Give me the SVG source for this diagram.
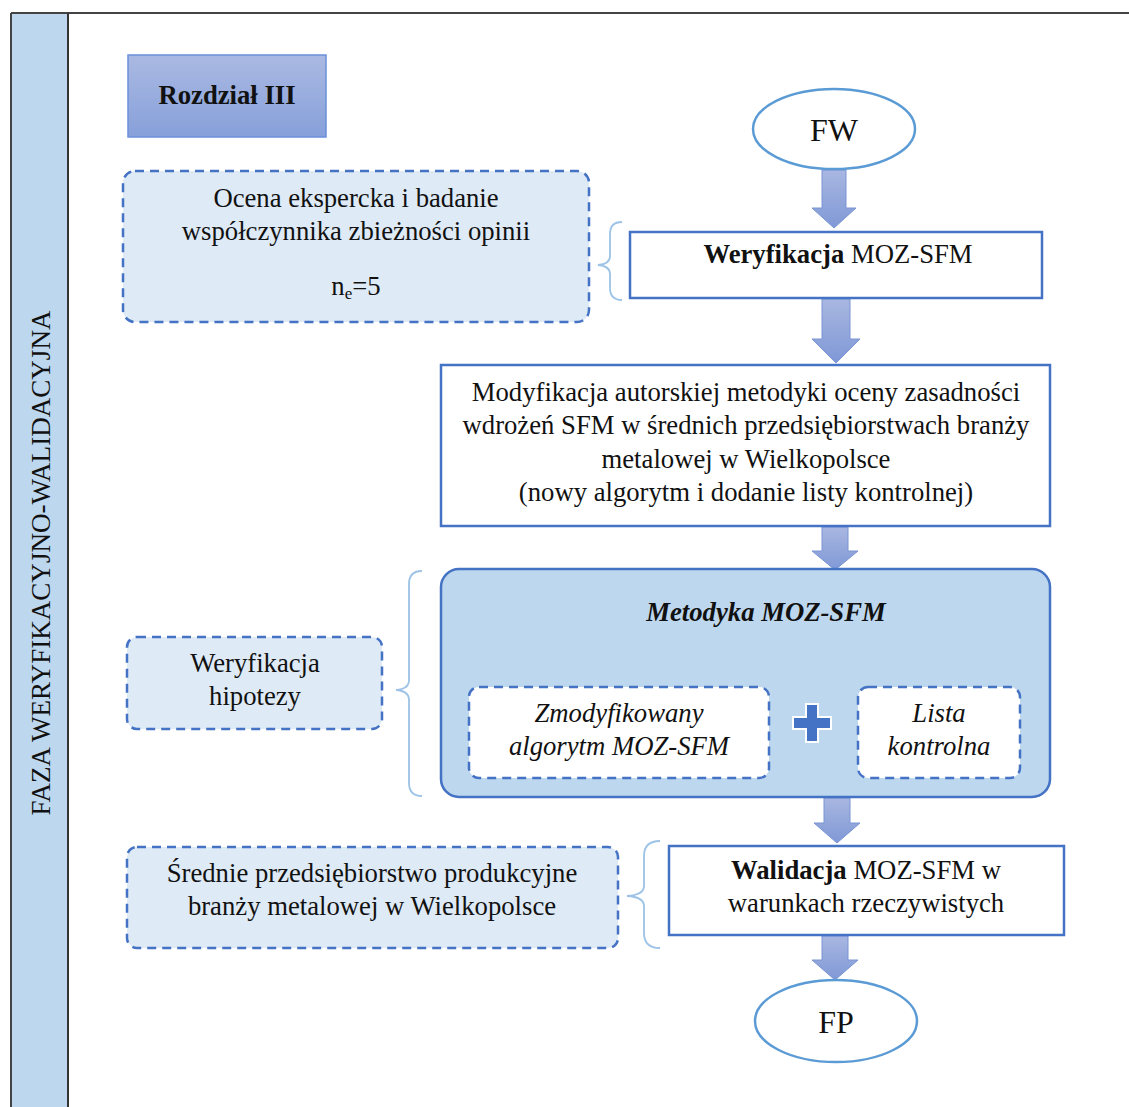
<svg xmlns="http://www.w3.org/2000/svg" width="1129" height="1107" viewBox="0 0 1129 1107" font-family="'Liberation Serif', 'DejaVu Serif', serif">
  <defs>
    <linearGradient id="gHead" x1="0" y1="0" x2="0" y2="1">
      <stop offset="0" stop-color="#AAB9E2"/>
      <stop offset="1" stop-color="#87A0DA"/>
    </linearGradient>
    <linearGradient id="gArrow" x1="0" y1="0" x2="0" y2="1">
      <stop offset="0" stop-color="#A9B7E1"/>
      <stop offset="1" stop-color="#7F98D6"/>
    </linearGradient>
    <style>
      text { font-family: 'Liberation Serif', 'DejaVu Serif', serif; fill: #111; font-size: 26.7px; text-anchor: middle; }
      .b { font-weight: bold; }
      .i { font-style: italic; }
      .big { font-size: 32px; }
      .sub { font-size: 17px; }
      .solid { fill: #fff; stroke: #4472C4; stroke-width: 2.5; }
      .note { fill: #DEEAF6; stroke: #4472C4; stroke-width: 2.5; stroke-dasharray: 9 6; }
      .inner { fill: #fff; stroke: #4472C4; stroke-width: 2.5; stroke-dasharray: 9 6; }
      .term { fill: #fff; stroke: #5B9BD5; stroke-width: 2.5; }
      .brace { fill: none; stroke: #9DC3E6; stroke-width: 1.8; }
      .arrow { fill: url(#gArrow); stroke: #7A95D4; stroke-width: 1; }
    </style>
  </defs>

  <!-- frame with the phase strip -->
  <g id="frame">
    <rect x="11" y="13" width="57" height="1100" fill="#BDD7EE"/>
    <line x1="11" y1="13" x2="1129" y2="13" stroke="#444" stroke-width="2"/>
    <line x1="11" y1="13" x2="11" y2="1107" stroke="#444" stroke-width="2"/>
    <line x1="68" y1="13" x2="68" y2="1107" stroke="#333" stroke-width="2"/>
    <text transform="translate(50 563) rotate(-90)" textLength="505" lengthAdjust="spacingAndGlyphs">FAZA WERYFIKACYJNO-WALIDACYJNA</text>
  </g>

  <g id="chapter">
    <rect x="128" y="55" width="198" height="82" fill="url(#gHead)" stroke="#6A90DA" stroke-width="1.5"/>
    <text class="b" x="227" y="104">Rozdział III</text>
  </g>

  <g id="connectors">
    <path class="arrow" d="M822 170 H846 V208 H856 L834 228 L812 208 H822 Z"/>
    <path class="arrow" d="M822 299 H850 V339 H860 L836 363 L812 339 H822 Z"/>
    <path class="arrow" d="M822 527 H848 V551 H858 L835 570 L812 551 H822 Z"/>
    <path class="arrow" d="M824 798 H850 V823 H860 L837 843 L814 823 H824 Z"/>
    <path class="arrow" d="M822 936 H848 V960 H858 L835 980 L812 960 H822 Z"/>
    <path class="brace" d="M622 222 Q610 222 610 234 V256 Q610 264 598 265 Q610 266 610 274 V288 Q610 300 622 300"/>
    <path class="brace" d="M422 571 Q409 571 409 584 V680 Q409 689 396 690 Q409 691 409 700 V783 Q409 796 422 796"/>
    <path class="brace" d="M660 841 Q644 841 644 856 V886 Q644 895 627 896 Q644 897 644 906 V933 Q644 948 660 948"/>
  </g>

  <g id="fw">
    <ellipse class="term" cx="834" cy="129" rx="81" ry="40"/>
    <text class="big" x="834" y="141">FW</text>
  </g>

  <g id="weryfikacja">
    <rect class="solid" x="630" y="232" width="412" height="66"/>
    <text x="838" y="263"><tspan class="b">Weryfikacja</tspan> MOZ-SFM</text>
  </g>

  <g id="modyfikacja">
    <rect class="solid" x="441" y="365" width="609" height="161"/>
    <text x="746" y="401">Modyfikacja autorskiej metodyki oceny zasadności</text>
    <text x="746" y="434">wdrożeń SFM w średnich przedsiębiorstwach branży</text>
    <text x="746" y="468">metalowej w Wielkopolsce</text>
    <text x="746" y="501">(nowy algorytm i dodanie listy kontrolnej)</text>
  </g>

  <g id="metodyka">
    <rect x="441" y="569" width="609" height="228" rx="18" fill="#BDD7EE" stroke="#4472C4" stroke-width="2.5"/>
    <text class="b i" x="766" y="621">Metodyka MOZ-SFM</text>
  </g>

  <g id="algorytm">
    <rect class="inner" x="469" y="687" width="300" height="91" rx="10"/>
    <text class="i" x="619" y="722">Zmodyfikowany</text>
    <text class="i" x="619" y="755">algorytm MOZ-SFM</text>
  </g>

  <g id="plus">
    <path d="M806 704 H818 V717 H831 V729 H818 V742 H806 V729 H793 V717 H806 Z" fill="#4472C4" stroke="#fff" stroke-width="2"/>
  </g>

  <g id="lista">
    <rect class="inner" x="858" y="687" width="162" height="91" rx="10"/>
    <text class="i" x="939" y="722">Lista</text>
    <text class="i" x="939" y="755">kontrolna</text>
  </g>

  <g id="walidacja">
    <rect class="solid" x="669" y="846" width="395" height="89"/>
    <text x="866" y="879"><tspan class="b">Walidacja</tspan> MOZ-SFM w</text>
    <text x="866" y="912">warunkach rzeczywistych</text>
  </g>

  <g id="fp">
    <ellipse class="term" cx="836" cy="1021" rx="81" ry="41"/>
    <text class="big" x="836" y="1033">FP</text>
  </g>

  <g id="ocena">
    <rect class="note" x="123" y="171" width="466" height="151" rx="12"/>
    <text x="356" y="207">Ocena ekspercka i badanie</text>
    <text x="356" y="240">współczynnika zbieżności opinii</text>
    <text x="356" y="295">n<tspan class="sub" dy="4">e</tspan><tspan dy="-4">=5</tspan></text>
  </g>

  <g id="hipoteza">
    <rect class="note" x="127" y="637" width="255" height="92" rx="10"/>
    <text x="255" y="672">Weryfikacja</text>
    <text x="255" y="705">hipotezy</text>
  </g>

  <g id="przedsiebiorstwo">
    <rect class="note" x="127" y="847" width="491" height="101" rx="10"/>
    <text x="372" y="882">Średnie przedsiębiorstwo produkcyjne</text>
    <text x="372" y="915">branży metalowej w Wielkopolsce</text>
  </g>
</svg>
